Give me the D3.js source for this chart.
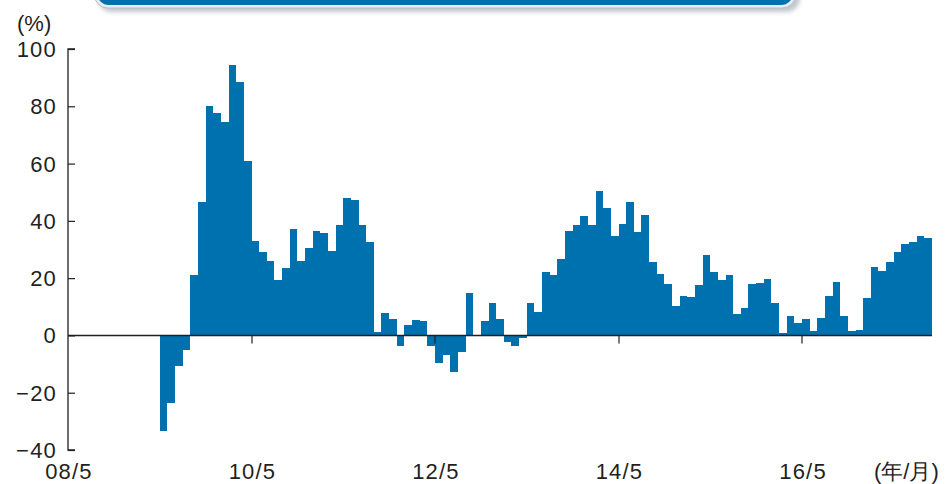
<!DOCTYPE html>
<html>
<head>
<meta charset="utf-8">
<script src="https://cdn.jsdelivr.net/npm/d3@7"></script>
<style>
  html, body { margin: 0; padding: 0; background: #fff; }
  svg { display: block; }
  text { font-family: "Liberation Sans", Arial, sans-serif; fill: #231f20; }
</style>
</head>
<body>
<svg id="chart" width="948" height="484"></svg>
<script>
// Months from 2008/5 to 2017/9 (index 0..112)
const startYear = 2008, startMonth = 5, monthCount = 113;
const months = d3.range(monthCount).map(i => {
  const m = startMonth - 1 + i;
  return String(startYear + Math.floor(m / 12)).slice(2) + "/" + (m % 12 + 1);
});

// Year-over-year change (%), null = no data
const values = [
  null, null, null, null, null, null, null, null, null, null, null, null,
  -33.5, -23.7, -10.8, -5.2, 21.2, 46.6, 80.1, 77.7, 74.5, 94.4, 88.5, 60.9,
  33.0, 29.2, 26.0, 19.4, 23.6, 37.2, 26.0, 30.6, 36.5, 35.8, 29.5, 38.6,
  48.0, 47.3, 38.6, 32.7, 1.3, 7.9, 5.8, -3.8, 3.7, 5.5, 5.1, -3.8,
  -9.8, -7.0, -12.9, -5.9, 14.9, 0.0, 5.1, 11.4, 5.8, -2.4, -3.8, -1.0,
  11.4, 8.3, 22.2, 21.2, 26.7, 36.5, 38.6, 41.7, 38.6, 50.5, 44.5, 34.8,
  39.0, 46.6, 36.2, 42.1, 25.7, 21.5, 18.0, 10.3, 13.8, 13.5, 17.7, 28.1,
  22.2, 19.4, 21.2, 7.6, 9.7, 18.0, 18.4, 19.8, 11.4, 0.9, 6.9, 4.4,
  5.8, 1.6, 6.2, 13.8, 18.7, 6.9, 1.6, 2.0, 13.1, 24.0, 22.6, 25.7,
  29.2, 32.0, 32.7, 34.8, 34.1
];

const yTicks = [-40, -20, 0, 20, 40, 60, 80, 100];
const xTickLabels = ["08/5", "10/5", "12/5", "14/5", "16/5"];
const yUnit = "(%)";
const xUnit = "(年/月)";

const svg = d3.select("#chart");
const color = "#0071af";
const ink = "#231f20";

const x = d3.scaleLinear().domain([0, monthCount]).range([68, 932]);
const y = d3.scaleLinear().domain([-40, 100]).range([450, 49]);

// Banner (cut-off title box at top)
const defs = svg.append("defs");
const f = defs.append("filter").attr("id", "sh").attr("x", "-10%").attr("y", "-50%").attr("width", "120%").attr("height", "250%");
f.append("feGaussianBlur").attr("stdDeviation", 2);
svg.append("rect").attr("x", 98).attr("y", -30).attr("width", 702).attr("height", 42)
  .attr("rx", 14).attr("fill", "#9aa3ad").attr("opacity", 0.6).attr("filter", "url(#sh)");
svg.append("rect").attr("x", 94).attr("y", -30).attr("width", 702).attr("height", 38)
  .attr("rx", 14).attr("fill", "#e9edf1").attr("stroke", "#b8c0c8").attr("stroke-width", 1);
svg.append("rect").attr("x", 97).attr("y", -30).attr("width", 696).attr("height", 35)
  .attr("rx", 12).attr("fill", "#0071af");

// Bars (snapped to whole pixels so neighbours touch without seams)
const data = values.map((v, i) => ({ i, v })).filter(d => d.v !== null);
const px = i => Math.round(x(i));
svg.append("g").attr("shape-rendering", "crispEdges")
  .selectAll("rect").data(data).join("rect")
  .attr("x", d => px(d.i))
  .attr("width", d => px(d.i + 1) - px(d.i))
  .attr("y", d => y(Math.max(0, d.v)))
  .attr("height", d => Math.abs(y(d.v) - y(0)))
  .attr("fill", color);

// Zero line
svg.append("line").attr("x1", x(0)).attr("x2", x(monthCount)).attr("y1", y(0)).attr("y2", y(0))
  .attr("stroke", ink).attr("stroke-width", 1.6);

// X ticks (every 24 months)
const xTickIdx = xTickLabels.map(l => months.indexOf(l));
svg.append("g").selectAll("line").data(xTickIdx.filter(i => i > 0)).join("line")
  .attr("x1", d => px(d)).attr("x2", d => px(d))
  .attr("y1", y(0)).attr("y2", y(0) + 8)
  .attr("stroke", ink).attr("stroke-width", 1.2);

svg.append("g").selectAll("text").data(xTickIdx).join("text")
  .attr("x", d => x(d) + 1)
  .attr("y", 479)
  .attr("text-anchor", "middle")
  .attr("font-size", 22)
  .attr("letter-spacing", 1.2)
  .text((d, k) => xTickLabels[k]);

// Y axis
const yAxis = d3.axisRight(y).tickValues(yTicks).tickSize(7).tickFormat("");
const ga = svg.append("g").attr("transform", `translate(${x(0)},0)`).call(yAxis);
ga.select(".domain").attr("stroke", ink).attr("stroke-width", 1.3).attr("d", `M7,${y(100)}H0V${y(-40)}H7`);
ga.selectAll(".tick line").attr("stroke", ink).attr("stroke-width", 1.2);

svg.append("g").selectAll("text").data(yTicks).join("text")
  .attr("x", 57)
  .attr("y", d => y(d) + 8)
  .attr("text-anchor", "end")
  .attr("font-size", 22)
  .attr("letter-spacing", 1.2)
  .text(d => d < 0 ? "\u2212" + Math.abs(d) : String(d));

// Units
svg.append("text").attr("x", 17).attr("y", 31).attr("font-size", 22)
  .attr("font-family", "'Noto Sans CJK JP', sans-serif").text(yUnit);
svg.append("text").attr("x", 874).attr("y", 479).attr("font-size", 22)
  .attr("font-family", "'Noto Sans CJK JP', sans-serif").text(xUnit);
</script>
</body>
</html>
